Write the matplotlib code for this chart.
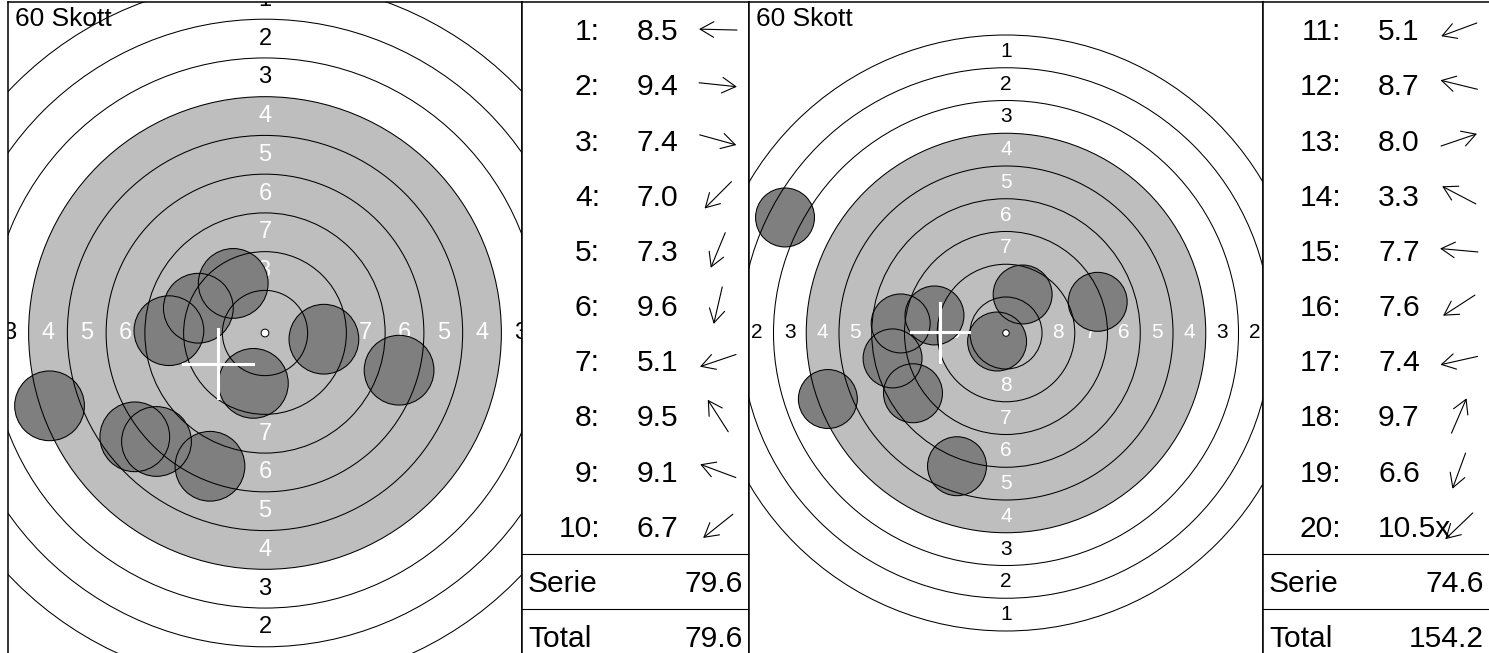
import numpy as np
import matplotlib
matplotlib.use("Agg")
import matplotlib.pyplot as plt
from matplotlib.patches import Circle

plt.rcParams['font.family'] = ['Liberation Sans', 'DejaVu Sans']

# shot positions in mm from target centre (10m air rifle target)
left_x = [-6.2, 3.8, 8.65, -7.0, -3.55, -0.75, -13.9, -2.05, -4.3, -8.4]
left_y = [0.15, -0.4, -2.4, -7.0, -8.6, -3.25, -4.7, 3.2, 1.6, -6.7]
left_scores = ["8.5", "9.4", "7.4", "7.0", "7.3", "9.6", "5.1", "9.5", "9.1", "6.7"]
left_nums = list(range(1, 11))
left_cross = (-3.03, -1.97)

right_x = [-13.6, -5.46, 7.0, -16.87, -8.04, -7.1, -8.66, 1.27, -3.74, -0.68]
right_y = [-5.04, 1.34, 2.38, 8.82, 0.73, -4.6, -1.94, 2.94, -10.17, -0.65]
right_scores = ["5.1", "8.7", "8.0", "3.3", "7.7", "7.6", "7.4", "9.7", "6.6", "10.5x"]
right_nums = list(range(11, 21))
right_cross = (-5.04, 0.04)

shots_label = "60 Skott"

W, H = 1489, 653
fig = plt.figure(figsize=(W / 100, H / 100), dpi=100)


def px_axes(x0, x1, top=2, bottom=664):
    return fig.add_axes([x0 / W, (H - bottom) / H, (x1 - x0) / W, (bottom - top) / H])


def draw_target(ax, xs, ys, cross, xlim, ylim, label_size):
    ax.set_xlim(-xlim, xlim)
    ax.set_ylim(-ylim, ylim)
    ax.set_xticks([])
    ax.set_yticks([])
    for s in ax.spines.values():
        s.set_linewidth(1.1)
    # black area (rings 4-10) drawn grey
    ax.add_patch(Circle((0, 0), 0.25 + 6 * 2.5, fc="#bebebe", ec="none", zorder=1))
    for k in range(1, 10):
        r = 0.25 + (10 - k) * 2.5
        ax.add_patch(Circle((0, 0), r, fc="none", ec="black", lw=0.75, zorder=4))
    for k in range(1, 9):
        r = 0.25 + (9.5 - k) * 2.5
        col = "black" if k <= 3 else "white"
        for px, py in [(0, r), (0, -r), (r, 0), (-r, 0)]:
            ax.text(px, py, str(k), ha="center", va="center", color=col,
                    fontsize=label_size, zorder=2, clip_on=True)
    for x, y in zip(xs, ys):
        ax.add_patch(Circle((x, y), 2.25, fc="#7f7f7f", ec="none", zorder=3))
        ax.add_patch(Circle((x, y), 2.25, fc="none", ec="black", lw=0.75, zorder=5))
    ax.add_patch(Circle((0, 0), 0.25, fc="white", ec="black", lw=0.7, zorder=6))
    cx, cy = cross
    ax.plot([cx - 2.25, cx + 2.25], [cy, cy], color="white", lw=2.2, zorder=7)
    ax.plot([cx, cx], [cy - 2.25, cy + 2.25], color="white", lw=2.2, zorder=7)
    ax.text(0.0136, 0.9637, shots_label, transform=ax.transAxes, fontsize=19,
            ha="left", va="baseline", zorder=8)


def draw_list(ax, nums, scores, xs, ys, serie, total):
    ax.set_xlim(0, 227)
    ax.set_ylim(662, 0)
    ax.set_xticks([])
    ax.set_yticks([])
    for s in ax.spines.values():
        s.set_linewidth(1.1)
    row = 662 / 12
    fs = 21.6
    for i, (n, sc, x, y) in enumerate(zip(nums, scores, xs, ys)):
        base = row * (i + 0.5) + 10.7
        ax.text(78, base, f"{n}:", ha="right", va="baseline", fontsize=fs)
        ax.text(115, base, sc, ha="left", va="baseline", fontsize=fs)
        ang = np.arctan2(y, x)
        dx, dy = np.cos(ang) * 19, -np.sin(ang) * 19
        cxa, cya = 196, row * (i + 0.5)
        ax.annotate("", xy=(cxa + dx, cya + dy), xytext=(cxa - dx, cya - dy),
                    arrowprops=dict(arrowstyle="->,head_length=0.7,head_width=0.4",
                                    lw=0.8, color="black", mutation_scale=14,
                                    shrinkA=0, shrinkB=0))
    ax.axhline(row * 10, color="black", lw=0.8)
    ax.axhline(row * 11, color="black", lw=0.8)
    ax.text(6, row * 10.5 + 10.7, "Serie", ha="left", va="baseline", fontsize=fs)
    ax.text(221, row * 10.5 + 10.7, f"{serie:.1f}", ha="right", va="baseline", fontsize=fs)
    ax.text(6, row * 11.5 + 10.7, "Total", ha="left", va="baseline", fontsize=fs)
    ax.text(221, row * 11.5 + 10.7, f"{total:.1f}", ha="right", va="baseline", fontsize=fs)


left_sum = sum(float(s.rstrip("x")) for s in left_scores)
right_sum = sum(float(s.rstrip("x")) for s in right_scores)

ax1 = px_axes(8, 522)
draw_target(ax1, left_x, left_y, left_cross, 16.58, 21.36, 17)
ax2 = px_axes(522, 749)
draw_list(ax2, left_nums, left_scores, left_x, left_y, left_sum, left_sum)
ax3 = px_axes(749, 1263)
draw_target(ax3, right_x, right_y, right_cross, 19.62, 25.27, 15)
ax4 = px_axes(1263, 1490)
draw_list(ax4, right_nums, right_scores, right_x, right_y, right_sum, left_sum + right_sum)

fig.savefig("out.png", dpi=100)
